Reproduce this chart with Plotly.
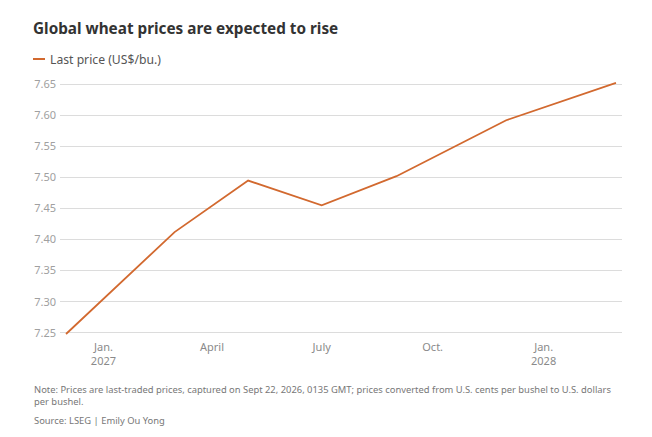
import plotly.graph_objects as go

# Contract months (first of each month)
dates = ["2026-12-01", "2027-03-01", "2027-05-01", "2027-07-01",
         "2027-09-01", "2027-12-01", "2028-03-01"]
prices = [7.248, 7.412, 7.495, 7.455, 7.502, 7.592, 7.652]

tick_dates = ["2027-01-01", "2027-04-01", "2027-07-01", "2027-10-01", "2028-01-01"]
tick_text = ["Jan.<br>2027", "April", "July", "Oct.", "Jan.<br>2028"]
y_ticks = [7.25, 7.30, 7.35, 7.40, 7.45, 7.50, 7.55, 7.60, 7.65]

orange = "#d2692f"
grey_txt = "#8a8a8a"
font = "Noto Sans"

# page has an 8px body margin, so the figure is 8px smaller and all
# positions below are in figure pixels (screen - 8)
W, H = 644, 429
L, R, T, B = 52, 30, 70, 98
ph = H - T - B


def py(pix):
    # figure pixel row -> paper y
    return (H - B - pix) / ph


def px(pix):
    return (pix - L) / (W - L - R)


fig = go.Figure()
fig.add_trace(go.Scatter(x=dates, y=prices, mode="lines",
                         line=dict(color=orange, width=1.8),
                         name="Last price (US$/bu.)", showlegend=False))

fig.update_layout(
    width=W, height=H,
    margin=dict(l=L, r=R, t=T, b=B),
    paper_bgcolor="white", plot_bgcolor="white",
    font=dict(family=font, color=grey_txt, size=11),
    title=dict(text="<b>Global wheat prices are expected to rise</b>",
               x=25 / W, xanchor="left", xref="container",
               y=1 - 21 / H, yanchor="middle", yref="container",
               font=dict(family=font, size=15.3, color="#333333")),
)
fig.update_xaxes(range=["2026-11-26", "2028-03-06"], tickvals=tick_dates,
                 ticktext=tick_text, showgrid=False, zeroline=False,
                 showline=False, ticks="", tickfont=dict(size=11, color=grey_txt))
fig.update_yaxes(range=[7.24, 7.66], tickvals=y_ticks,
                 tickformat=".2f", showgrid=True, gridcolor="#dcdcdc",
                 gridwidth=1, zeroline=False, showline=False, ticks="",
                 ticklabelstandoff=3, tickfont=dict(size=11, color="#a0a0a0"))

# legend key
fig.add_shape(type="line", xref="paper", yref="paper",
              x0=px(25), x1=px(37), y0=py(51), y1=py(51),
              line=dict(color=orange, width=2))
fig.add_annotation(text="Last price (US$/bu.)", xref="paper", yref="paper",
                   x=px(40), y=py(51), xanchor="left", yanchor="middle",
                   showarrow=False, font=dict(size=12.2, color="#555555"))

note = ("Note: Prices are last-traded prices, captured on Sept 22, 2026, 0135 GMT; "
        "prices converted from U.S. cents per bushel to U.S. dollars<br>per bushel.")
fig.add_annotation(text=note, xref="paper", yref="paper",
                   x=px(24), y=py(373), xanchor="left", yanchor="top",
                   align="left", showarrow=False,
                   font=dict(size=9.4, color="#777777"))
fig.add_annotation(text="Source: LSEG | Emily Ou Yong", xref="paper", yref="paper",
                   x=px(24), y=py(412), xanchor="left", yanchor="middle",
                   align="left", showarrow=False,
                   font=dict(size=9.4, color="#777777"))

fig.write_html("out.html")
